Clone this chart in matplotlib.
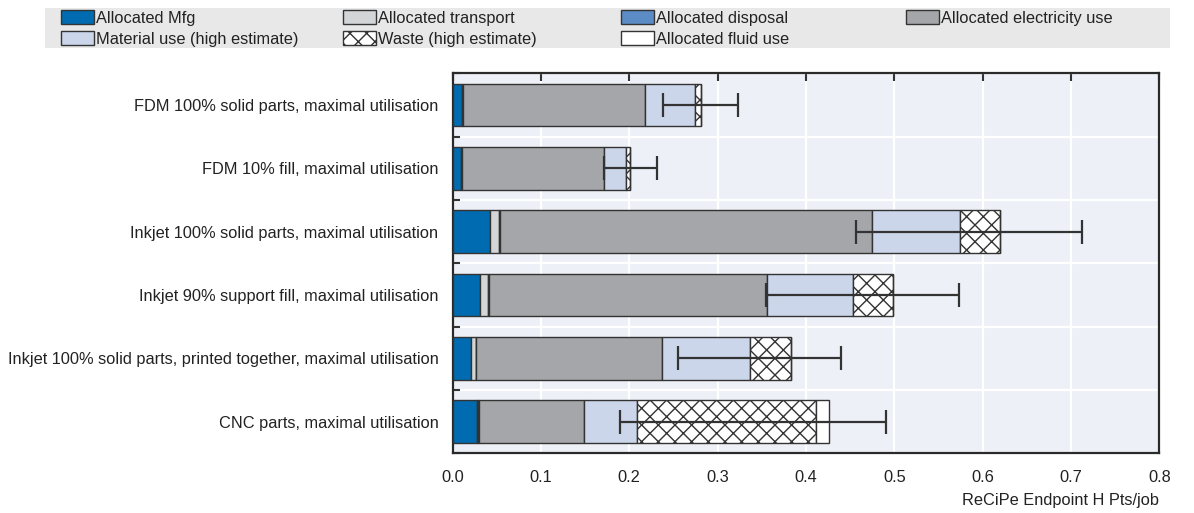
import numpy as np
import matplotlib
matplotlib.use("Agg")
import matplotlib.pyplot as plt

plt.rcParams['font.family'] = ['Liberation Sans', 'DejaVu Sans']
plt.rcParams['hatch.linewidth'] = 1.0

categories = [
    "FDM 100% solid parts, maximal utilisation",
    "FDM 10% fill, maximal utilisation",
    "Inkjet 100% solid parts, maximal utilisation",
    "Inkjet 90% support fill, maximal utilisation",
    "Inkjet 100% solid parts, printed together, maximal utilisation",
    "CNC parts, maximal utilisation",
]

mfg = [0.011, 0.0093, 0.042, 0.0315, 0.0206, 0.0274]
transport = [0.001, 0.001, 0.011, 0.009, 0.0056, 0.0015]
disposal = [0.0003, 0.0003, 0.0005, 0.0005, 0.0004, 0.0015]
electricity = [0.2057, 0.1614, 0.421, 0.3147, 0.2102, 0.1186]
material = [0.057, 0.024, 0.100, 0.098, 0.100, 0.0595]
waste = [0.006, 0.005, 0.0455, 0.0446, 0.046, 0.203]
fluid = [0.0, 0.0, 0.0, 0.0, 0.0, 0.0151]

err_low = [0.238, 0.171, 0.457, 0.355, 0.255, 0.190]
err_high = [0.323, 0.232, 0.713, 0.573, 0.440, 0.491]

series = [
    ("Allocated Mfg", mfg, "#006bb0", None),
    ("Allocated transport", transport, "#d4d5d7", None),
    ("Allocated disposal", disposal, "#5b8cc6", None),
    ("Allocated electricity use", electricity, "#a5a6a9", None),
    ("Material use (high estimate)", material, "#cbd6ea", None),
    ("Waste (high estimate)", waste, "white", "xx"),
    ("Allocated fluid use", fluid, "white", None),
]

FS = 11.8

fig = plt.figure(figsize=(11.94, 5.13), dpi=100)
ax = fig.add_axes([452.5 / 1194, 1 - 453.3 / 513, (1159.3 - 452.5) / 1194, (453.3 - 73.3) / 513])
ax.set_facecolor("#edf0f7")

y = np.arange(len(categories))
left = np.zeros(len(categories))
handles = {}
for name, vals, col, hatch in series:
    b = ax.barh(y, vals, left=left, height=0.67, color=col, edgecolor="#333333",
                linewidth=1.0, hatch=hatch, label=name, zorder=3)
    handles[name] = b
    left = left + np.array(vals)

lo = np.array(err_low)
hi = np.array(err_high)
ax.errorbar((lo + hi) / 2, y, xerr=(hi - lo) / 2, fmt="none", ecolor="#333333",
            elinewidth=1.6, capsize=8.5, capthick=1.6, zorder=4)

ax.set_xlim(0, 0.8)
ax.set_ylim(len(categories) - 0.5, -0.5)
ax.set_xticks(np.arange(0, 0.81, 0.1))
ax.set_xticklabels([f"{v:.1f}" for v in np.arange(0, 0.81, 0.1)])
ax.set_yticks(y)
ax.set_yticklabels(categories)
ax.set_yticks(np.arange(-0.5, len(categories), 1.0), minor=True)

ax.tick_params(axis="x", bottom=False, top=True, direction="in", length=6, width=1.5,
               color="#333333", labelsize=FS, pad=12, labelcolor="#222222")
ax.tick_params(axis="y", which="major", length=0, labelsize=FS, pad=10, labelcolor="#222222")
ax.tick_params(axis="y", which="minor", left=True, direction="in", length=5, width=1.5, color="#333333")

ax.grid(axis="x", which="major", color="white", linewidth=1.6, zorder=0)
ax.grid(axis="y", which="minor", color="white", linewidth=1.6, zorder=0)
ax.set_axisbelow(True)
for s in ax.spines.values():
    s.set_color("#2a2a2a")
    s.set_linewidth(1.6)

ax.set_xlabel("ReCiPe Endpoint H Pts/job", fontsize=FS, color="#222222", loc="right", labelpad=6)

# legend band
band = plt.Rectangle((45 / 1194, 1 - 48 / 513), (1170 - 45) / 1194, 40 / 513,
                     transform=fig.transFigure, facecolor="#e8e8e9", edgecolor="none", zorder=0)
fig.patches.append(band)

columns = [
    (61, ["Allocated Mfg", "Material use (high estimate)"]),
    (343, ["Allocated transport", "Waste (high estimate)"]),
    (621, ["Allocated disposal", "Allocated fluid use"]),
    (906, ["Allocated electricity use"]),
]
for xpix, names in columns:
    leg = fig.legend([handles[n] for n in names], names, loc="upper left",
                     bbox_to_anchor=(xpix / 1194, 1 - 10 / 513), frameon=False,
                     fontsize=FS, borderpad=0, borderaxespad=0, handlelength=2.0,
                     handleheight=0.95, handletextpad=0.15, labelspacing=0.32)
    for t in leg.get_texts():
        t.set_color("#222222")

fig.savefig("out.png", dpi=100)
